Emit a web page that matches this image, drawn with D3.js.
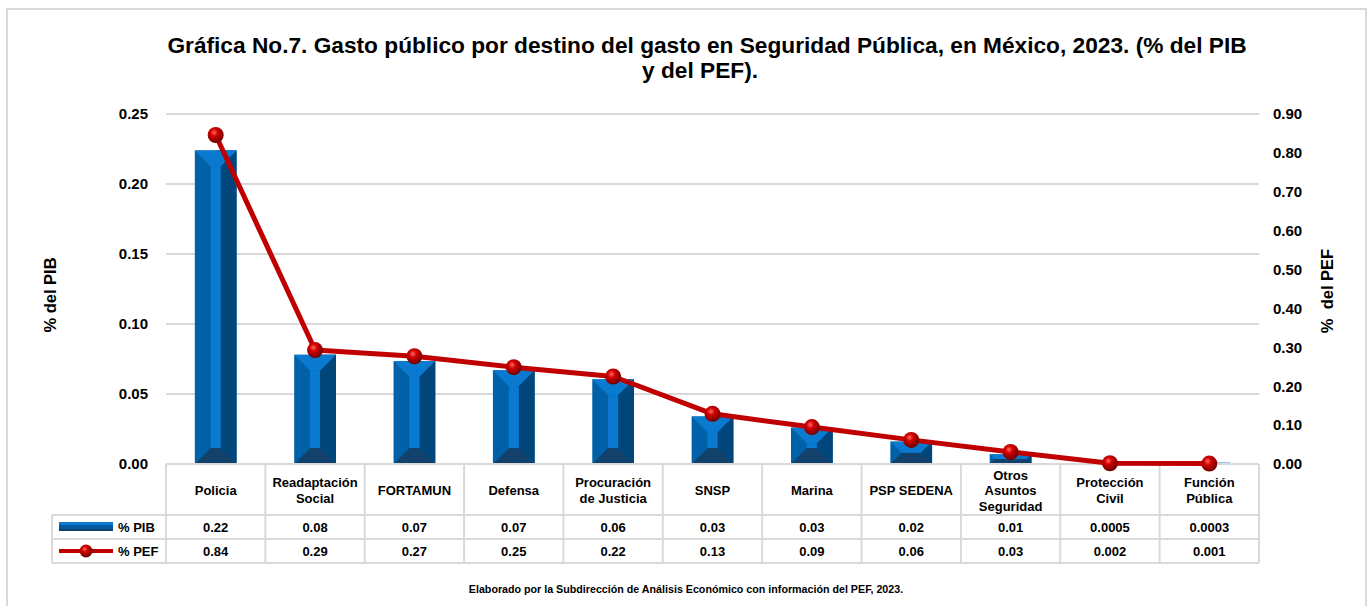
<!DOCTYPE html>
<html>
<head>
<meta charset="utf-8">
<script src="https://cdn.jsdelivr.net/npm/d3@7"></script>
<style>
  html, body { margin: 0; padding: 0; background: #fff; }
  svg { display: block; font-family: "Liberation Sans", Arial, sans-serif; }
</style>
</head>
<body>
<div id="app"></div>
<script>
const categories = [
  ['Policia'], ['Readaptación', 'Social'], ['FORTAMUN'], ['Defensa'],
  ['Procuración', 'de Justicia'], ['SNSP'], ['Marina'], ['PSP SEDENA'],
  ['Otros', 'Asuntos', 'Seguridad'], ['Protección', 'Civil'], ['Función', 'Pública']
]
const pib = [0.224, 0.078, 0.0735, 0.067, 0.0605, 0.034, 0.026, 0.016, 0.007, 0.0005, 0.0003]
const pef = [0.846, 0.293, 0.277, 0.249, 0.225, 0.129, 0.095, 0.062, 0.031, 0.002, 0.001]
const pibLabels = ['0.22', '0.08', '0.07', '0.07', '0.06', '0.03', '0.03', '0.02', '0.01', '0.0005', '0.0003']
const pefLabels = ['0.84', '0.29', '0.27', '0.25', '0.22', '0.13', '0.09', '0.06', '0.03', '0.002', '0.001']
const leftTicks = [0, 0.05, 0.10, 0.15, 0.20, 0.25]
const rightTicks = [0, 0.1, 0.2, 0.3, 0.4, 0.5, 0.6, 0.7, 0.8, 0.9]

const width = 1372, height = 606
const m = { left: 166, right: 1259, top: 114, bottom: 464 }
const grid = '#d9d9d9'

const svg = d3.select('#app').append('svg').attr('width', width).attr('height', height)

// gradient for markers
const defs = svg.append('defs')
const rg = defs.append('radialGradient').attr('id', 'ball').attr('cx', '40%').attr('cy', '35%').attr('r', '65%')
rg.append('stop').attr('offset', '0%').attr('stop-color', '#ff6a6a')
rg.append('stop').attr('offset', '35%').attr('stop-color', '#d40000')
rg.append('stop').attr('offset', '100%').attr('stop-color', '#6e0000')

// chart border
svg.append('rect').attr('x', 7).attr('y', 9).attr('width', 1359).attr('height', 620)
  .attr('fill', 'none').attr('stroke', grid).attr('stroke-width', 2)

// title
svg.append('text').attr('text-anchor', 'middle')
  .attr('font-size', 22.7).attr('font-weight', 'bold').attr('fill', '#000')
  .selectAll('tspan').data(['Gráfica No.7. Gasto público por destino del gasto en Seguridad Pública, en México, 2023. (% del PIB', 'y del PEF).'])
  .enter().append('tspan').attr('x', (d, i) => i ? 700 : 707).attr('y', (d, i) => i ? 78 : 53).text(d => d)

const x = d3.scaleBand().domain(d3.range(categories.length)).range([m.left, m.right]).padding(0)
const y = d3.scaleLinear().domain([0, 0.25]).range([m.bottom, m.top])
const y2 = d3.scaleLinear().domain([0, 0.9]).range([m.bottom, m.top])

// gridlines
svg.append('g').selectAll('line').data(leftTicks.slice(1)).enter().append('line')
  .attr('x1', m.left).attr('x2', m.right).attr('y1', d => y(d)).attr('y2', d => y(d))
  .attr('stroke', grid).attr('stroke-width', 2)

// left axis
const yAxis = svg.append('g').attr('transform', `translate(${m.left - 18},0)`)
  .call(d3.axisLeft(y).tickValues(leftTicks).tickFormat(d3.format('.2f')).tickSize(0))
yAxis.select('.domain').remove()
yAxis.selectAll('text').attr('font-size', 15).attr('font-weight', 'bold').attr('fill', '#000')
  .attr('font-family', '"Liberation Sans", Arial, sans-serif').attr('x', 0)

// right axis
const y2Axis = svg.append('g').attr('transform', `translate(${m.right + 14},0)`)
  .call(d3.axisRight(y2).tickValues(rightTicks).tickFormat(d3.format('.2f')).tickSize(0))
y2Axis.select('.domain').remove()
y2Axis.selectAll('text').attr('font-size', 15).attr('font-weight', 'bold').attr('fill', '#000')
  .attr('font-family', '"Liberation Sans", Arial, sans-serif').attr('x', 0)

// axis titles
svg.append('text').attr('transform', 'translate(56,295) rotate(-90)').attr('text-anchor', 'middle')
  .attr('font-size', 16.5).attr('font-weight', 'bold').text('% del PIB')
svg.append('text').attr('transform', 'translate(1333,291) rotate(-90)').attr('text-anchor', 'middle')
  .attr('font-size', 16.5).attr('font-weight', 'bold').attr('xml:space', 'preserve').text('%  del PEF')

// bevelled bars
const bw = x.bandwidth() * 0.42
svg.append('g').selectAll('g').data(pib).enter().append('g')
  .each(function (v, i) {
    const g = d3.select(this)
    const x0 = x(i) + (x.bandwidth() - bw) / 2, x1 = x0 + bw
    const y0 = y(v), y1 = y(0)
    const h = y1 - y0
    const b = Math.min(16, h / 2)
    const s = 5 // half width of center strip
    const cx = (x0 + x1) / 2
    const poly = pts => pts.map(p => p.join(',')).join(' ')
    if (h < 3) {
      g.append('rect').attr('x', x0).attr('y', y0 - 1.5).attr('width', bw).attr('height', Math.max(h, 1.5) + 1)
        .attr('fill', '#8fc0e8')
      return
    }
    g.append('rect').attr('x', x0).attr('y', y0).attr('width', bw).attr('height', h).attr('fill', '#0061a8')
    g.append('polygon').attr('points', poly([[cx, y0], [x1, y0], [x1, y1], [x1 - b, y1 - b], [x1 - b, y0 + b]])).attr('fill', '#00467a')
    g.append('polygon').attr('points', poly([[x0, y1], [x1, y1], [x1 - b, y1 - b], [x0 + b, y1 - b]])).attr('fill', '#12426c')
    g.append('polygon').attr('points', poly([[x0, y0], [x1, y0], [x1 - b, y0 + b], [x0 + b, y0 + b]])).attr('fill', '#0a7ad0')
    if (h > 2 * b + 1) {
      g.append('rect').attr('x', cx - s).attr('y', y0 + b).attr('width', 2 * s).attr('height', h - 2 * b).attr('fill', '#0a7ad0')
    } else {
      g.append('polygon').attr('points', poly([[x0 + b, y0 + b], [x1 - b, y0 + b], [cx + s, y1 - b], [cx - s, y1 - b]])).attr('fill', '#0a7ad0')
    }
  })

// table
const rowY = [464, 515, 539, 563]
const tbl = svg.append('g')
const lineStyle = sel => sel.attr('stroke', grid).attr('stroke-width', 2)
tbl.append('line').attr('x1', m.left).attr('x2', m.right).attr('y1', rowY[0]).attr('y2', rowY[0]).call(lineStyle)
rowY.slice(1).forEach(yy => {
  tbl.append('line').attr('x1', 52).attr('x2', m.right).attr('y1', yy).attr('y2', yy).call(lineStyle)
})
d3.range(categories.length + 1).forEach(i => {
  const xx = i < categories.length ? x(i) : m.right
  tbl.append('line').attr('x1', xx).attr('x2', xx).attr('y1', rowY[0]).attr('y2', rowY[3]).call(lineStyle)
})
tbl.append('line').attr('x1', 52).attr('x2', 52).attr('y1', rowY[1]).attr('y2', rowY[3]).call(lineStyle)

// header labels
categories.forEach((lines, i) => {
  const cx = x(i) + x.bandwidth() / 2
  const lh = 15.5
  const start = 495 - (lines.length - 1) * lh / 2
  const t = tbl.append('text').attr('text-anchor', 'middle').attr('font-size', 13).attr('font-weight', 'bold')
  lines.forEach((l, k) => t.append('tspan').attr('x', cx).attr('y', start + k * lh).text(l))
})
pibLabels.forEach((l, i) => {
  tbl.append('text').attr('x', x(i) + x.bandwidth() / 2).attr('y', 532).attr('text-anchor', 'middle')
    .attr('font-size', 13).attr('font-weight', 'bold').text(l)
})
pefLabels.forEach((l, i) => {
  tbl.append('text').attr('x', x(i) + x.bandwidth() / 2).attr('y', 556).attr('text-anchor', 'middle')
    .attr('font-size', 13).attr('font-weight', 'bold').text(l)
})

// legend keys
const lg1 = tbl.append('g')
lg1.append('rect').attr('x', 59).attr('y', 522).attr('width', 54).attr('height', 9).attr('fill', '#005a9e')
lg1.append('rect').attr('x', 59).attr('y', 522).attr('width', 54).attr('height', 3).attr('fill', '#0a7ad0')
lg1.append('rect').attr('x', 59).attr('y', 529).attr('width', 54).attr('height', 2).attr('fill', '#12426c')
lg1.append('text').attr('x', 118).attr('y', 532).attr('font-size', 13).attr('font-weight', 'bold').text('% PIB')
const lg2 = tbl.append('g')
lg2.append('line').attr('x1', 59).attr('x2', 113).attr('y1', 551).attr('y2', 551).attr('stroke', '#c00000').attr('stroke-width', 4)
lg2.append('circle').attr('cx', 86).attr('cy', 551).attr('r', 6.5).attr('fill', 'url(#ball)')
lg2.append('text').attr('x', 118).attr('y', 556).attr('font-size', 13).attr('font-weight', 'bold').text('% PEF')

// PEF line
const cxp = i => x(i) + x.bandwidth() / 2
const line = d3.line().x((d, i) => cxp(i)).y(d => y2(d))
svg.append('path').datum(pef).attr('d', line).attr('fill', 'none')
  .attr('stroke', '#c00000').attr('stroke-width', 5).attr('stroke-linejoin', 'round')
svg.append('g').selectAll('circle').data(pef).enter().append('circle')
  .attr('cx', (d, i) => cxp(i)).attr('cy', d => y2(d)).attr('r', 8).attr('fill', 'url(#ball)')

// footer
svg.append('text').attr('x', 686).attr('y', 593).attr('text-anchor', 'middle')
  .attr('font-size', 10.7).attr('font-weight', 'bold')
  .text('Elaborado por la Subdirección de Análisis Económico con información del PEF, 2023.')
</script>
</body>
</html>
